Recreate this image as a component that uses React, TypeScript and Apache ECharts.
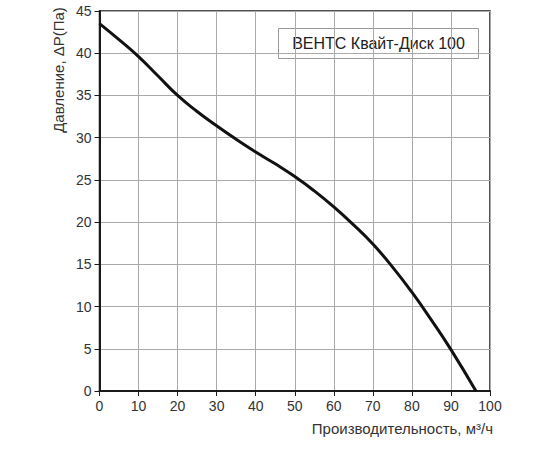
import { useRef, useEffect } from "react";
import * as echarts from "echarts";

const flowValues = [0, 5, 10, 15, 20, 25, 30, 35, 40, 45, 50, 55, 60, 65, 70, 75, 80, 85, 90, 96.4];
const pressureValues = [43.5, 41.6, 39.6, 37.3, 35.0, 33.1, 31.4, 29.8, 28.3, 26.9, 25.4, 23.7, 21.8, 19.7, 17.4, 14.7, 11.7, 8.4, 4.9, 0];
const modelName = "ВЕНТС Квайт-Диск 100";
const xAxisTitle = "Производительность, м³/ч";
const yAxisTitle = "Давление, ΔP(Па)";

export default function App() {
  const chartRef = useRef<HTMLDivElement>(null);

  useEffect(() => {
    if (!chartRef.current) return;
    const chart = echarts.init(chartRef.current, null, { renderer: "svg" });

    const font = "Liberation Sans, Arial, sans-serif";
    const points = flowValues.map((x, i) => [x, pressureValues[i]]);

    chart.setOption({
      animation: false,
      backgroundColor: "#fff",
      grid: {
        left: 99.5,
        right: 60,
        top: 11,
        bottom: 59,
        show: true,
        borderColor: "#1a1a1a",
        borderWidth: 1.5,
        backgroundColor: "transparent",
      },
      xAxis: {
        type: "value",
        min: 0,
        max: 100,
        interval: 10,
        axisLine: { show: true, lineStyle: { color: "#1a1a1a", width: 2 } },
        axisTick: { show: true, inside: false, length: 5, lineStyle: { color: "#1a1a1a" } },
        axisLabel: { color: "#333", fontSize: 14, fontFamily: font, margin: 8 },
        splitLine: { show: true, lineStyle: { color: "#aaa", width: 1 } },
      },
      yAxis: {
        type: "value",
        min: 0,
        max: 45,
        interval: 5,
        axisLine: { show: true, lineStyle: { color: "#1a1a1a", width: 2 } },
        axisTick: { show: true, inside: false, length: 5, lineStyle: { color: "#1a1a1a" } },
        axisLabel: { color: "#333", fontSize: 14, fontFamily: font, margin: 8 },
        splitLine: { show: true, lineStyle: { color: "#aaa", width: 1 } },
      },
      graphic: [
        {
          type: "group",
          left: 278,
          top: 28,
          children: [
            {
              type: "rect",
              shape: { x: 0, y: 0, width: 200, height: 30 },
              style: { fill: "#fff", stroke: "#999", lineWidth: 1 },
            },
            {
              type: "text",
              x: 100,
              y: 15,
              style: {
                text: modelName,
                fill: "#222",
                font: `16px ${font}`,
                align: "center",
                verticalAlign: "middle",
              },
            },
          ],
        },
        {
          type: "text",
          x: 58,
          y: 70,
          rotation: Math.PI / 2,
          style: {
            text: yAxisTitle,
            fill: "#333",
            font: `15px ${font}`,
            align: "center",
            verticalAlign: "middle",
          },
        },
        {
          type: "text",
          x: 493,
          y: 428,
          style: {
            text: xAxisTitle,
            fill: "#333",
            font: `15px ${font}`,
            align: "right",
            verticalAlign: "middle",
          },
        },
      ],
      series: [
        {
          type: "line",
          data: points,
          smooth: 0.5,
          showSymbol: false,
          lineStyle: { color: "#111", width: 3 },
          z: 5,
        },
      ],
    });

    return () => {
      chart.dispose();
    };
  }, []);

  return (
    <div
      ref={chartRef}
      style={{ position: "absolute", left: 0, top: 0, width: "550px", height: "450px" }}
    />
  );
}
